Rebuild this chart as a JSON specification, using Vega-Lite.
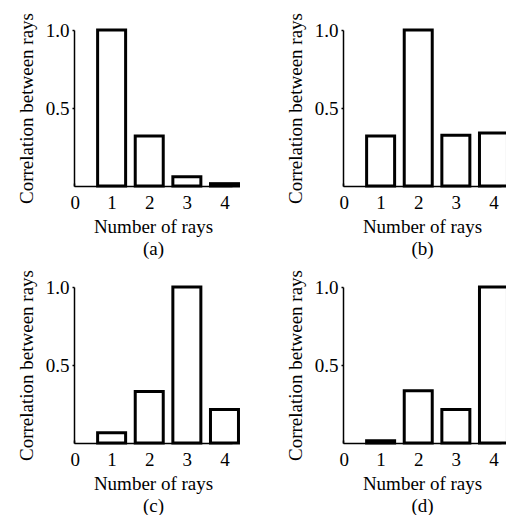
{
  "$schema": "https://vega.github.io/schema/vega-lite/v6.json",
  "background": "white",
  "padding": {"left": 17, "top": 12, "right": 0, "bottom": 0},
  "bounds": "flush",
  "columns": 2,
  "spacing": {"row": 101, "column": 111},
  "datasets": {
    "rays": [
      {"panel": "a", "n": 1, "corr": 1.0},
      {"panel": "a", "n": 2, "corr": 0.32},
      {"panel": "a", "n": 3, "corr": 0.06},
      {"panel": "a", "n": 4, "corr": 0.015},
      {"panel": "b", "n": 1, "corr": 0.32},
      {"panel": "b", "n": 2, "corr": 1.0},
      {"panel": "b", "n": 3, "corr": 0.325},
      {"panel": "b", "n": 4, "corr": 0.34},
      {"panel": "c", "n": 1, "corr": 0.065},
      {"panel": "c", "n": 2, "corr": 0.33},
      {"panel": "c", "n": 3, "corr": 1.0},
      {"panel": "c", "n": 4, "corr": 0.215},
      {"panel": "d", "n": 1, "corr": 0.015},
      {"panel": "d", "n": 2, "corr": 0.335},
      {"panel": "d", "n": 3, "corr": 0.215},
      {"panel": "d", "n": 4, "corr": 1.0}
    ]
  },
  "config": {
    "font": "Liberation Serif",
    "view": {"stroke": null},
    "axis": {
      "labelFont": "Liberation Serif",
      "titleFont": "Liberation Serif",
      "labelFontSize": 19,
      "titleFontSize": 19,
      "labelColor": "black",
      "titleColor": "black",
      "titleFontWeight": "normal",
      "domainColor": "black",
      "tickColor": "black",
      "domainWidth": 1.5,
      "tickWidth": 1.5,
      "grid": false
    },
    "axisY": {"tickSize": 2, "labelPadding": 3, "titlePadding": 9},
    "axisX": {"tickSize": -3, "labelPadding": 10, "titlePadding": 5, "titleLineHeight": 22}
  },
  "concat": [
    {
      "width": 158, "height": 156,
      "data": {"name": "rays"},
      "transform": [{"filter": "datum.panel === 'a'"}],
      "mark": {"type": "bar", "orient": "vertical", "size": 28, "fill": "white", "stroke": "black", "strokeWidth": 3},
      "encoding": {
        "x": {"field": "n", "type": "quantitative", "scale": {"domain": [0, 4.2], "nice": false, "padding": 0}, "axis": {"values": [0, 1, 2, 3, 4], "format": "d", "labelOffset": {"condition": {"test": "datum.value === 0", "value": -4}, "value": 0}, "title": ["Number of rays", "(a)"]}},
        "y": {"field": "corr", "type": "quantitative", "scale": {"domain": [0, 1], "nice": false}, "axis": {"values": [0.5, 1], "format": ".1f", "title": "Correlation between rays"}}
      }
    },
    {
      "width": 158, "height": 156,
      "data": {"name": "rays"},
      "transform": [{"filter": "datum.panel === 'b'"}],
      "mark": {"type": "bar", "orient": "vertical", "size": 28, "fill": "white", "stroke": "black", "strokeWidth": 3},
      "encoding": {
        "x": {"field": "n", "type": "quantitative", "scale": {"domain": [0, 4.2], "nice": false, "padding": 0}, "axis": {"values": [0, 1, 2, 3, 4], "format": "d", "labelOffset": {"condition": {"test": "datum.value === 0", "value": -4}, "value": 0}, "title": ["Number of rays", "(b)"]}},
        "y": {"field": "corr", "type": "quantitative", "scale": {"domain": [0, 1], "nice": false}, "axis": {"values": [0.5, 1], "format": ".1f", "title": "Correlation between rays"}}
      }
    },
    {
      "width": 158, "height": 156,
      "data": {"name": "rays"},
      "transform": [{"filter": "datum.panel === 'c'"}],
      "mark": {"type": "bar", "orient": "vertical", "size": 28, "fill": "white", "stroke": "black", "strokeWidth": 3},
      "encoding": {
        "x": {"field": "n", "type": "quantitative", "scale": {"domain": [0, 4.2], "nice": false, "padding": 0}, "axis": {"values": [0, 1, 2, 3, 4], "format": "d", "labelOffset": {"condition": {"test": "datum.value === 0", "value": -4}, "value": 0}, "title": ["Number of rays", "(c)"]}},
        "y": {"field": "corr", "type": "quantitative", "scale": {"domain": [0, 1], "nice": false}, "axis": {"values": [0.5, 1], "format": ".1f", "title": "Correlation between rays"}}
      }
    },
    {
      "width": 158, "height": 156,
      "data": {"name": "rays"},
      "transform": [{"filter": "datum.panel === 'd'"}],
      "mark": {"type": "bar", "orient": "vertical", "size": 28, "fill": "white", "stroke": "black", "strokeWidth": 3},
      "encoding": {
        "x": {"field": "n", "type": "quantitative", "scale": {"domain": [0, 4.2], "nice": false, "padding": 0}, "axis": {"values": [0, 1, 2, 3, 4], "format": "d", "labelOffset": {"condition": {"test": "datum.value === 0", "value": -4}, "value": 0}, "title": ["Number of rays", "(d)"]}},
        "y": {"field": "corr", "type": "quantitative", "scale": {"domain": [0, 1], "nice": false}, "axis": {"values": [0.5, 1], "format": ".1f", "title": "Correlation between rays"}}
      }
    }
  ]
}
